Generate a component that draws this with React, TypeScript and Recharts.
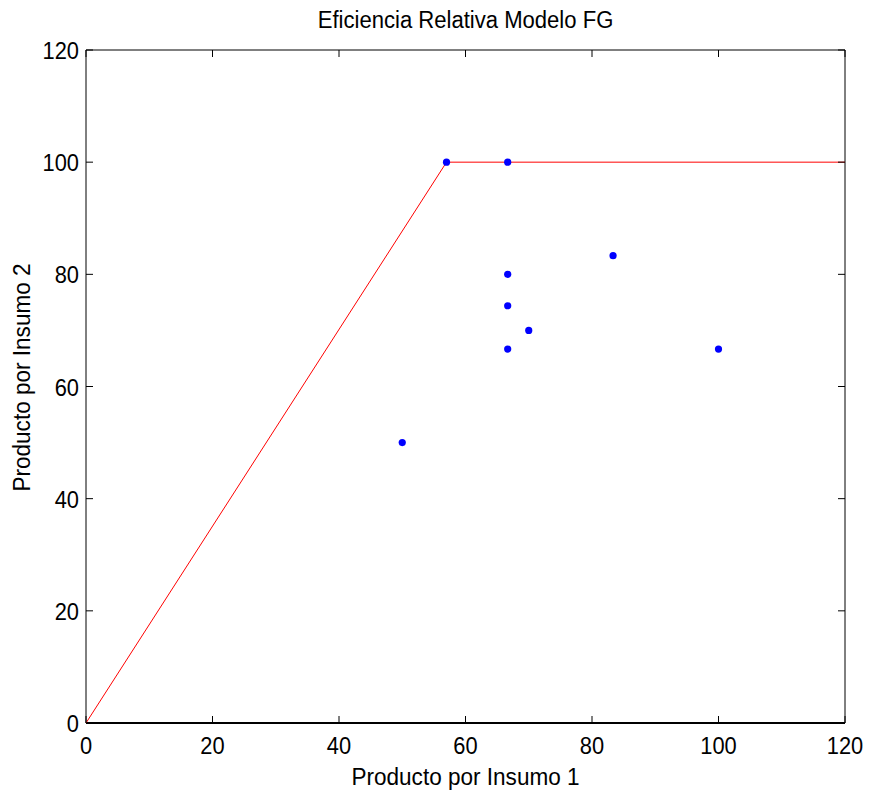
import { ScatterChart, Scatter, XAxis, YAxis, Label } from 'recharts';

// frontier (red line) and the units (blue dots)
const frontierX = [0, 57, 120];
const frontierY = [0, 100, 100];
const unitX = [57, 66.67, 66.67, 66.67, 66.67, 70, 83.33, 100, 50];
const unitY = [100, 100, 80, 74.4, 66.67, 70, 83.33, 66.67, 50];
const axisTicks = [0, 20, 40, 60, 80, 100, 120];

const frontier = frontierX.map((x, i) => ({ x, y: frontierY[i] }));
const units = unitX.map((x, i) => ({ x, y: unitY[i] }));

const W = 869;
const H = 794;
const PLOT = { left: 86, top: 50, right: 845, bottom: 723 };
const FONT = '"Liberation Sans", Arial, sans-serif';
const TICK_LEN = 7;

// slightly condensed sans text, like the old plot renderer
const Txt = ({ x, y, size = 24, sx = 0.91, anchor = 'middle', rotate = 0, children }: any) => (
  <text
    transform={`translate(${x},${y}) rotate(${rotate}) scale(${sx},1)`}
    textAnchor={anchor}
    fontSize={size}
    fontFamily={FONT}
    fill="#000"
  >
    {children}
  </text>
);

const BottomTick = ({ x, payload }: any) => (
  <g>
    <line x1={x} y1={PLOT.bottom} x2={x} y2={PLOT.bottom - TICK_LEN} stroke="#000" />
    <Txt x={x} y={PLOT.bottom + 31}>{payload.value}</Txt>
  </g>
);

const LeftTick = ({ y, payload }: any) => (
  <g>
    <line x1={PLOT.left} y1={y} x2={PLOT.left + TICK_LEN} y2={y} stroke="#000" />
    <Txt x={PLOT.left - 7} y={y + 9} anchor="end">{payload.value}</Txt>
  </g>
);

const TopTick = ({ x }: any) => (
  <line x1={x} y1={PLOT.top} x2={x} y2={PLOT.top + TICK_LEN} stroke="#000" />
);

const RightTick = ({ y }: any) => (
  <line x1={PLOT.right} y1={y} x2={PLOT.right - TICK_LEN} y2={y} stroke="#000" />
);

const NoShape = () => <g />;

export default function App() {
  return (
    <div style={{ position: 'absolute', left: 0, top: 0, width: W, height: H, background: '#fff' }}>
      <ScatterChart
        width={W}
        height={H}
        margin={{ top: PLOT.top - 1, right: W - PLOT.right - 1, bottom: 0, left: 0 }}
      >
        <XAxis
          type="number"
          dataKey="x"
          domain={[0, 120]}
          ticks={axisTicks}
          height={H - PLOT.bottom}
          tickLine={false}
          tick={<BottomTick />}
          axisLine={{ stroke: '#000', strokeWidth: 2 }}
        >
          <Label
            content={({ viewBox }: any) => (
              <Txt x={viewBox.x + viewBox.width / 2} y={PLOT.bottom + 62} sx={0.94}>
                Producto por Insumo 1
              </Txt>
            )}
          />
        </XAxis>
        <YAxis
          type="number"
          dataKey="y"
          domain={[0, 120]}
          ticks={axisTicks}
          width={PLOT.left}
          tickLine={false}
          tick={<LeftTick />}
          axisLine={{ stroke: '#000' }}
        >
          <Label
            content={({ viewBox }: any) => (
              <Txt x={30} y={viewBox.y + viewBox.height / 2 - 9} sx={0.94} rotate={-90}>
                Producto por Insumo 2
              </Txt>
            )}
          />
        </YAxis>
        <XAxis
          xAxisId="top"
          orientation="top"
          type="number"
          dataKey="x"
          domain={[0, 120]}
          ticks={axisTicks}
          height={1}
          tickLine={false}
          tick={<TopTick />}
          axisLine={{ stroke: '#000' }}
        >
          <Label
            content={({ viewBox }: any) => (
              <Txt x={viewBox.x + viewBox.width / 2} y={28} size={23} sx={0.96}>
                Eficiencia Relativa Modelo FG
              </Txt>
            )}
          />
        </XAxis>
        <YAxis
          yAxisId="right"
          orientation="right"
          type="number"
          dataKey="y"
          domain={[0, 120]}
          ticks={axisTicks}
          width={1}
          tickLine={false}
          tick={<RightTick />}
          axisLine={{ stroke: '#000' }}
        />
        {/* keeps the top/right frame axes in use */}
        <Scatter
          xAxisId="top"
          yAxisId="right"
          data={frontier}
          shape={NoShape}
          isAnimationActive={false}
        />
        <Scatter
          data={frontier}
          line={{ stroke: '#ff0000', strokeWidth: 1 }}
          shape={NoShape}
          isAnimationActive={false}
        />
        <Scatter
          data={units}
          fill="#0000ff"
          isAnimationActive={false}
          shape={(p: any) => <circle cx={p.cx} cy={p.cy} r={3.6} fill="#0000ff" />}
        />
      </ScatterChart>
    </div>
  );
}
